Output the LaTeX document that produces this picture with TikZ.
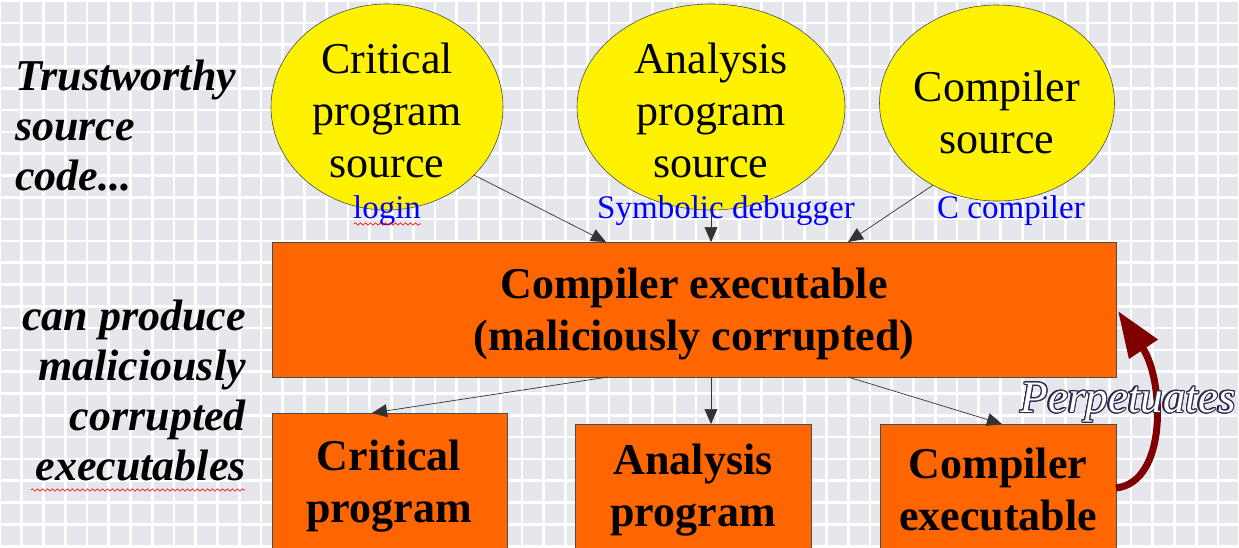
\documentclass[tikz,border=0pt]{standalone}
\usepackage{fontspec}
\setmainfont{Liberation Serif}
\usepackage[copies]{contour}
\usetikzlibrary{shapes.geometric,arrows.meta,decorations.pathmorphing}
\definecolor{bggray}{HTML}{E6E7EC}
\definecolor{boxorange}{HTML}{FF6600}
\definecolor{darkred}{HTML}{800000}
\definecolor{outl}{HTML}{2A2A50}
\newcommand{\fs}[2]{\fontsize{#1}{#2}\selectfont}
\tikzset{
  src/.style={ellipse, draw=black!70, line width=0.6pt, fill=yellow, inner sep=0pt},
  srctext/.style={align=center, font=\fs{44}{52}, inner sep=0pt},
  exe/.style={rectangle, draw=black!70, line width=0.8pt, fill=boxorange, inner sep=0pt},
  exetext/.style={align=center, font=\bfseries\fs{44}{52}, inner sep=0pt},
  lbl/.style={text=blue, font=\fs{33}{36}, inner sep=0pt},
  side/.style={font=\bfseries\itshape\fs{44}{50}, inner sep=0pt},
  flow/.style={draw=black!80, line width=0.7pt, -{Triangle[length=15pt,width=13pt]}},
  squig/.style={draw=red, line width=0.6pt, decorate, decoration={snake, amplitude=1.2pt, segment length=5pt}}
}
\begin{document}
\begin{tikzpicture}[x=1pt,y=-1pt]
\useasboundingbox (0,0) rectangle (1239,547);
\fill[bggray] (0,0) rectangle (1239,547);
\foreach \i in {0,...,57} {\draw[white, line width=2.6pt] (\i*21.75,0) -- (\i*21.75,547);}
\foreach \j in {0,...,25} {\draw[white, line width=2.6pt] (0,\j*21.8+1) -- (1239,\j*21.8+1);}

% side texts
\node[side, anchor=north west, align=left] (trust) at (15,60) {Trustworthy\\source\\code...};
\node[side, anchor=north east, align=right] (canprod) at (246,300) {can produce\\maliciously\\corrupted\\executables};

% source ellipses
\node[src, minimum width=232pt, minimum height=206pt] (csrc) at (387,107) {};
\node[srctext] (csrct) at (387,110) {Critical\\program\\source};
\node[src, minimum width=268pt, minimum height=206pt] (asrc) at (711,107) {};
\node[srctext] (asrct) at (711,110) {Analysis\\program\\source};
\node[src, minimum width=235pt, minimum height=196pt] (ksrc) at (997,103) {};
\node[srctext] (ksrct) at (997,112) {Compiler\\source};

% blue labels
\node[lbl] (login) at (387,211) {login};
\node[lbl] (symdbg) at (726,211) {Symbolic debugger};
\node[lbl] (ccomp) at (1011,211) {C compiler};
\draw[squig] (354,224) -- (421,224);

% compiler executable box
\node[exe, minimum width=844pt, minimum height=135pt, anchor=north west] (cexe) at (272,242) {};
\node[exetext] (cexet) at (694,314) {Compiler executable\\(maliciously corrupted)};

% bottom boxes
\node[exe, minimum width=235pt, minimum height=150pt, anchor=north west] (cprog) at (272,413) {};
\node[exetext] (cprogt) at (389,486) {Critical\\program};
\node[exe, minimum width=236pt, minimum height=140pt, anchor=north west] (aprog) at (575,424) {};
\node[exetext] (aprogt) at (693,490) {Analysis\\program};
\node[exe, minimum width=236pt, minimum height=140pt, anchor=north west] (kexe) at (880,424) {};
\node[exetext] (kexet) at (998,489) {Compiler\\executable};

% input arrows
\coordinate (t1) at (606,242);
\coordinate (t2) at (711,242);
\coordinate (t3) at (848,242);
\draw[flow] (csrc.-38) -- (t1);
\draw[flow] (asrc.south) -- (t2);
\draw[flow] (ksrc.-128) -- (t3);

% output arrows
\coordinate (o1) at (608,377);
\coordinate (o2) at (711,377);
\coordinate (o3) at (848,377);
\draw[flow] (o1) -- (cprog.north -| 372,0);
\draw[flow] (o2) -- (aprog.north -| 711,0);
\draw[flow] (o3) -- (kexe.north -| 1002,0);

% squiggle under executables
\draw[squig] (31,490) -- (245,490);

% perpetuates
\coordinate (pfrom) at (1116,488);
\coordinate (pto) at (1118,311);
\draw[darkred, line width=7pt, -{Triangle[length=46pt,width=33pt]}] (pfrom) .. controls (1168,482) and (1164,380) .. (pto);
\node[font=\itshape\fs{45}{48}, inner sep=0pt] (perp) at (1128,403) {\contourlength{1.2pt}\contour{outl}{\textcolor{white}{Perpetuates}}};
\end{tikzpicture}
\end{document}
